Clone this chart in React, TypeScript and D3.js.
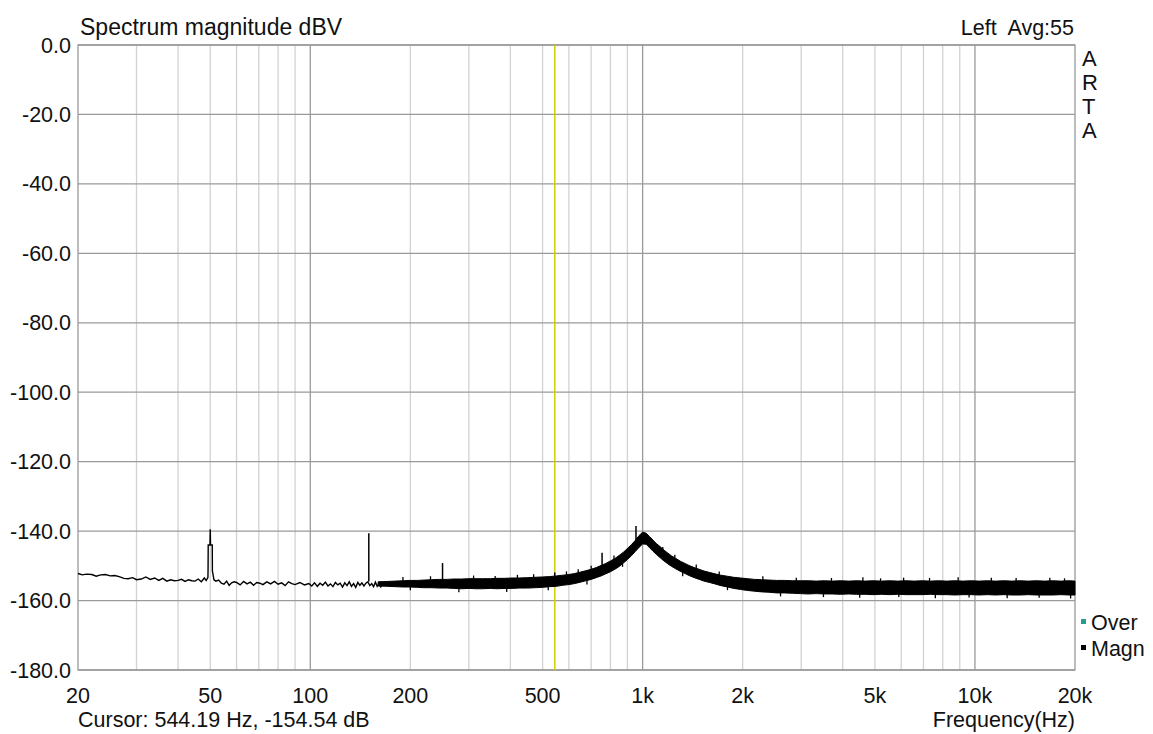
import React from 'react';
import * as d3 from 'd3';

// axis ticks
const xTickValues = [20, 50, 100, 200, 500, 1000, 2000, 5000, 10000, 20000];
const xTickLabels = ['20', '50', '100', '200', '500', '1k', '2k', '5k', '10k', '20k'];
const yTickValues = [0, -20, -40, -60, -80, -100, -120, -140, -160, -180];

// thin trace at the low end (Hz / dBV)
const traceHz = [
  20, 20.6, 21.2, 22, 22.7, 23.4, 24.2, 25, 25.8, 26.6, 27.5, 28.3, 29.2, 30, 31, 32, 33, 34, 35, 36,
  37, 38, 39, 40, 41, 42, 43, 44, 45, 46, 47, 48, 48.6, 49.2, 49.25, 49.3, 49.9, 50, 50.1, 50.7,
  50.75, 51.3, 52, 53, 54, 55, 56, 57, 58, 59, 60, 61.5, 63, 64.5, 66, 67.5, 69, 70.5, 72, 74,
  76, 78, 80, 82, 84, 86, 88, 90, 93, 96, 99, 101, 103, 105, 107, 109, 111, 113, 115, 117,
  119, 121, 123, 125, 127, 129, 131, 133, 135, 137, 139, 141, 143, 145, 147, 149, 151, 153, 155, 157,
  159, 161, 163, 165,
];
const traceDb = [
  -152.2, -152.6, -152.4, -152.5, -153.0, -152.6, -152.5, -152.9, -152.8, -153.1, -153.6, -153.7, -153.4, -154.0, -153.8, -153.2, -153.9, -153.5, -154.2, -153.6,
  -154.4, -154.0, -154.3, -154.2, -153.9, -154.5, -154.0, -154.3, -154.4, -153.8, -154.6, -153.5, -154.2, -153.4, -151.2, -144.0, -144.0, -139.5, -144.0, -144.0,
  -151.5, -154.0, -154.4, -154.1, -155.0, -155.3, -154.4, -155.6, -154.9, -154.6, -154.8, -155.5, -154.5, -155.2, -154.7, -155.6, -154.8, -155.0, -155.4, -154.6,
  -155.2, -154.5, -155.3, -154.9, -155.7, -154.6, -155.1, -155.4, -154.8, -155.5, -155.1, -155.8, -154.9, -155.9, -155.0, -155.6, -154.7, -155.8, -155.2, -156.0,
  -154.8, -155.5, -155.0, -156.1, -154.9, -155.7, -154.6, -155.9, -155.1, -156.2, -154.8, -155.6, -154.9, -155.8, -155.0, -154.6, -155.7, -155.1, -156.0, -154.7,
  -155.9, -155.2, -156.1, -155.3,
];

// dense noise band above ~160 Hz: lower / upper edge (dBV)
const bandHz = [
  160, 170, 180, 190, 200, 210, 220, 232, 245, 258, 270, 285, 300, 315, 330, 348, 365, 385, 405, 425,
  450, 475, 500, 525, 550, 575, 600, 625, 650, 675, 700, 725, 750, 775, 800, 825, 850, 875, 900, 925,
  950, 975, 1000, 1025, 1050, 1075, 1100, 1130, 1160, 1190, 1220, 1260, 1300, 1340, 1380, 1430, 1480, 1530, 1590, 1650,
  1720, 1800, 1880, 1970, 2070, 2170, 2280, 2400, 2530, 2670, 2820, 2980, 3150, 3330, 3520, 3720, 3940, 4170, 4410, 4670,
  4940, 5230, 5540, 5860, 6200, 6560, 6940, 7340, 7770, 8220, 8700, 9200, 9740, 10300, 10900, 11540, 12210, 12920, 13670, 14470,
  15310, 16200, 17140, 18140, 19190, 20000,
];
const bandLo = [
  -155.8, -155.9, -156.0, -156.1, -156.1, -156.2, -156.3, -156.3, -156.4, -156.4, -156.5, -156.6, -156.5, -156.6, -156.6, -156.5, -156.6, -156.5, -156.5, -156.4,
  -156.4, -156.3, -156.2, -156.0, -155.9, -155.6, -155.4, -155.1, -154.7, -154.3, -153.9, -153.4, -152.9, -152.3, -151.7, -151.0, -150.2, -149.2, -148.2, -147.1,
  -145.9, -144.7, -143.7, -143.8, -144.8, -145.8, -146.7, -147.7, -148.6, -149.4, -150.1, -150.9, -151.6, -152.2, -152.8, -153.4, -153.9, -154.4, -154.8, -155.2,
  -155.7, -156.1, -156.5, -156.8, -157.1, -157.3, -157.5, -157.6, -157.8, -157.8, -157.9, -158.0, -158.1, -158.0, -158.1, -158.1, -158.2, -158.1, -158.2, -158.2,
  -158.3, -158.2, -158.3, -158.2, -158.3, -158.3, -158.3, -158.2, -158.3, -158.3, -158.4, -158.3, -158.3, -158.4, -158.3, -158.4, -158.3, -158.4, -158.4, -158.3,
  -158.4, -158.4, -158.4, -158.3, -158.4, -158.4,
];
const bandHi = [
  -154.6, -154.5, -154.4, -154.3, -154.2, -154.2, -154.1, -154.0, -153.9, -153.9, -153.8, -153.8, -153.7, -153.7, -153.7, -153.7, -153.6, -153.6, -153.5, -153.5,
  -153.4, -153.3, -153.2, -153.1, -152.9, -152.7, -152.5, -152.2, -151.8, -151.4, -151.0, -150.5, -149.9, -149.3, -148.6, -147.9, -147.0, -146.1, -145.0, -143.9,
  -142.7, -141.3, -140.3, -140.6, -141.6, -142.6, -143.6, -144.5, -145.5, -146.3, -147.1, -147.9, -148.7, -149.3, -149.9, -150.5, -151.0, -151.5, -151.9, -152.3,
  -152.7, -153.0, -153.3, -153.5, -153.7, -153.9, -154.0, -154.1, -154.2, -154.2, -154.3, -154.3, -154.3, -154.4, -154.3, -154.4, -154.3, -154.4, -154.3, -154.4,
  -154.3, -154.4, -154.3, -154.4, -154.3, -154.4, -154.3, -154.4, -154.3, -154.4, -154.3, -154.4, -154.3, -154.4, -154.3, -154.4, -154.3, -154.4, -154.3, -154.4,
  -154.3, -154.4, -154.3, -154.4, -154.3, -154.4,
];

// small noise peaks poking out of the band
const bumpUpHz = [190, 230, 310, 360, 420, 470, 590, 640, 700, 820, 1150, 1250, 1450, 1700, 2300, 2900, 3700, 4600, 5200, 6100, 7300, 8900, 11200, 13300, 16800, 18600];
const bumpUpDb = [-153.2, -153.0, -152.8, -152.9, -152.6, -152.4, -151.6, -151.0, -150.0, -147.0, -144.6, -146.8, -149.6, -151.6, -153.0, -153.4, -153.5, -153.3, -153.6, -153.4, -153.5, -153.3, -153.4, -153.5, -153.4, -153.6];
const bumpDownHz = [200, 280, 390, 520, 680, 870, 1320, 1800, 2600, 3500, 4500, 5900, 7600, 9600, 12500, 15600, 19400];
const bumpDownDb = [-157.0, -157.6, -157.5, -157.0, -155.4, -150.3, -153.0, -157.0, -158.8, -159.0, -159.2, -159.0, -159.3, -159.1, -159.3, -159.2, -159.4];

// mains / tone spikes
const spikeHz = [150, 250, 544, 755, 955];
const spikeBase = [-154.5, -154.5, -154.0, -150.5, -143.5];
const spikeTop = [-140.6, -149.2, -151.9, -146.2, -138.5];

const cursorHz = 544.19;

const W = 1153;
const H = 734;
const left = 78;
const right = 1075;
const top = 45;
const bottom = 670;
const FONT = '"Liberation Sans", Arial, sans-serif';

const App: React.FC = () => {
  const x = d3.scaleLog().domain([20, 20000]).range([left, right]);
  const y = d3.scaleLinear().domain([-180, 0]).range([bottom, top]);

  // grid lines at 20..90, 100..900, 1k..9k, 10k
  const gridHz: number[] = [];
  [10, 100, 1000, 10000].forEach(dec => {
    for (let k = 1; k <= 9; k++) {
      const f = dec * k;
      if (f > 20 && f < 20000) gridHz.push(f);
    }
  });
  const isDecade = (f: number) => [100, 1000, 10000].includes(f);

  const traceLine = d3
    .line<number>()
    .x((_d, i) => x(traceHz[i]))
    .y(d => y(d));

  const band = d3
    .area<number>()
    .x((_d, i) => x(bandHz[i]))
    .y0((_d, i) => y(bandLo[i]))
    .y1((_d, i) => y(bandHi[i]));

  return (
    <svg
      width={W}
      height={H}
      style={{ position: 'absolute', left: 0, top: 0, background: '#fff' }}
      fontFamily={FONT}
    >
      <rect x={0} y={0} width={W} height={H} fill="#fff" />

      {/* grid */}
      {gridHz.map(f => (
        <line
          key={'v' + f}
          x1={x(f)}
          x2={x(f)}
          y1={top}
          y2={bottom}
          stroke={isDecade(f) ? '#9a9a9a' : '#d2d2d2'}
          strokeWidth={1.3}
        />
      ))}
      {yTickValues.map(v => (
        <line key={'h' + v} x1={left} x2={right} y1={y(v)} y2={y(v)} stroke="#9a9a9a" strokeWidth={1.3} />
      ))}
      <rect x={left} y={top} width={right - left} height={bottom - top} fill="none" stroke="#9a9a9a" strokeWidth={1.3} />

      {/* cursor */}
      <line x1={x(cursorHz)} x2={x(cursorHz)} y1={top} y2={bottom} stroke="#d0d000" strokeWidth={1.5} />

      {/* data */}
      <path d={band(bandLo) || ''} fill="#000" stroke="#000" strokeWidth={1} />
      <path d={traceLine(traceDb) || ''} fill="none" stroke="#000" strokeWidth={1.4} />
      {bumpUpHz.map((f, i) => (
        <line key={'bu' + f} x1={x(f)} x2={x(f)} y1={y(bumpUpDb[i])} y2={y(bumpUpDb[i] - 1.5)} stroke="#000" strokeWidth={1.3} />
      ))}
      {bumpDownHz.map((f, i) => (
        <line key={'bd' + f} x1={x(f)} x2={x(f)} y1={y(bumpDownDb[i])} y2={y(bumpDownDb[i] + 1.5)} stroke="#000" strokeWidth={1.3} />
      ))}
      {spikeHz.map((f, i) => (
        <line key={'s' + f} x1={x(f)} x2={x(f)} y1={y(spikeBase[i])} y2={y(spikeTop[i])} stroke="#000" strokeWidth={1.5} />
      ))}

      {/* y ticks */}
      {yTickValues.map(v => (
        <text key={'yl' + v} x={71} y={y(v) + 7.5} textAnchor="end" fontSize={21.5} fill="#111">
          {v.toFixed(1)}
        </text>
      ))}
      {/* x ticks */}
      {xTickValues.map((f, i) => (
        <text key={'xl' + f} x={x(f)} y={703} textAnchor="middle" fontSize={21.5} fill="#111">
          {xTickLabels[i]}
        </text>
      ))}

      <text x={80} y={35} fontSize={23} fill="#111">Spectrum magnitude dBV</text>
      <text x={1074} y={35} textAnchor="end" fontSize={21.5} fill="#111" style={{ whiteSpace: 'pre' }}>
        {'Left  Avg:55'}
      </text>
      {['A', 'R', 'T', 'A'].map((c, i) => (
        <text key={'arta' + i} x={1082} y={66 + i * 24} fontSize={22} fill="#111">
          {c}
        </text>
      ))}

      {/* legend */}
      <rect x={1081} y={619} width={5} height={5} fill="#2a9d8f" />
      <text x={1091} y={630} fontSize={21.5} fill="#111">Over</text>
      <rect x={1081} y={645} width={5} height={5} fill="#000" />
      <text x={1091} y={656} fontSize={21.5} fill="#111">Magn</text>

      <text x={78} y={727} fontSize={21.5} fill="#111">Cursor: 544.19 Hz, -154.54 dB</text>
      <text x={1075} y={727} textAnchor="end" fontSize={21.5} fill="#111">Frequency(Hz)</text>
    </svg>
  );
};

export default App;
